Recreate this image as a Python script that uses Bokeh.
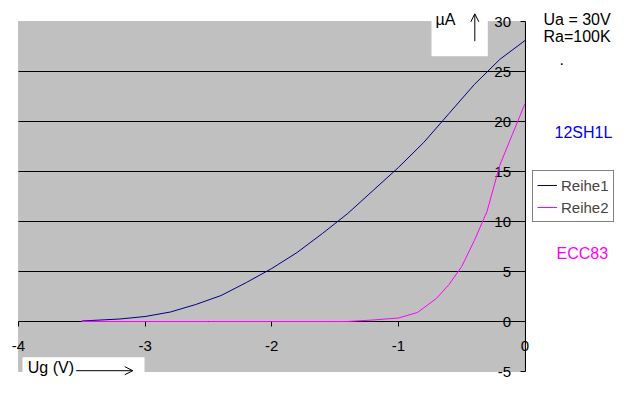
from bokeh.plotting import figure
from bokeh.models import (Range1d, LinearAxis, FixedTicker, Label, BoxAnnotation,
                          Arrow, OpenHead, Legend, LegendItem)
from bokeh.embed import file_html
from bokeh.resources import INLINE

# ---- data ----
ug_12sh1l = [-3.5, -3.2, -3.0, -2.8, -2.6, -2.4, -2.2, -2.0, -1.8, -1.6, -1.4, -1.2, -1.0, -0.8, -0.6, -0.4, -0.2, 0.0]
ia_12sh1l = [0.05, 0.25, 0.5, 0.95, 1.7, 2.6, 3.9, 5.3, 6.9, 8.8, 10.8, 13.1, 15.4, 17.9, 20.8, 23.7, 26.2, 28.1]

ug_ecc83 = [-3.5, -3.0, -2.5, -2.0, -1.5, -1.4, -1.2, -1.0, -0.85, -0.7, -0.6, -0.5, -0.4, -0.3, -0.2, -0.1, 0.0]
ia_ecc83 = [0.0, 0.0, 0.0, 0.0, 0.0, 0.0, 0.15, 0.35, 0.9, 2.3, 3.7, 5.5, 8.1, 11.0, 15.6, 18.7, 21.8]

series_names = ["Reihe1", "Reihe2"]
tube_names = ["12SH1L", "ECC83"]

x_ticks = [-4, -3, -2, -1, 0]
x_tick_labels = ["-4", "-3", "-2", "-1", "0"]
y_ticks = [-5, 0, 5, 10, 15, 20, 25, 30]
y_tick_labels = ["-5", "0", "5", "10", "15", "20", "25", "30"]
grid_levels = [5, 10, 15, 20, 25]

FONT = "Liberation Sans"

# plot area: x -4..0 at px 18..524.5, y 30..-5 at px 21..371 (frame = whole canvas)
W, H = 622, 380
PL, PR, PT, PB = 18, 524.5, 21, 371
kx = (PR - PL) / (x_ticks[-1] - x_ticks[0])
ky = (PB - PT) / (y_ticks[-1] - y_ticks[0])
x0 = x_ticks[0] - PL / kx
x1 = x_ticks[-1] + (W - PR) / kx
y1 = y_ticks[-1] + PT / ky
y0 = y_ticks[0] - (H - PB) / ky

def dx(px):
    return x_ticks[0] + (px - PL) / kx

def dy(py):
    return y_ticks[-1] - (py - PT) / ky

p = figure(width=W, height=H, x_range=Range1d(x0, x1), y_range=Range1d(y0, y1),
           x_axis_location=None, y_axis_location=None, title=None,
           output_backend="svg", toolbar_location=None,
           min_border_left=0, min_border_right=0, min_border_top=0, min_border_bottom=0,
           background_fill_color="white", border_fill_color="white",
           outline_line_color=None)
p.grid.visible = False

# grey plot area with grey border
area = BoxAnnotation(left=x_ticks[0], right=x_ticks[-1], bottom=y_ticks[0], top=y_ticks[-1],
                     fill_color="#C0C0C0", fill_alpha=1.0,
                     line_color="#808080", line_width=1, level="underlay")
p.add_layout(area)

# horizontal grid lines
p.segment(x0=[x_ticks[0]] * len(grid_levels), y0=grid_levels,
          x1=[x_ticks[-1]] * len(grid_levels), y1=grid_levels,
          line_color="black", line_width=1)

def style_axis(ax):
    ax.axis_line_color = "black"
    ax.axis_line_width = 1
    ax.major_tick_line_color = "black"
    ax.major_tick_in = 0
    ax.major_tick_out = 5
    ax.minor_tick_line_color = None
    ax.major_label_text_font = FONT
    ax.major_label_text_font_size = "15px"
    ax.major_label_text_color = "black"

xaxis = LinearAxis(fixed_location=0, bounds=(x_ticks[0], x_ticks[-1]),
                   ticker=FixedTicker(ticks=x_ticks),
                   major_label_overrides={t: l for t, l in zip(x_ticks, x_tick_labels)})
style_axis(xaxis)
xaxis.major_label_standoff = 14
p.add_layout(xaxis, "below")

yaxis = LinearAxis(fixed_location=0, bounds=(y_ticks[0], y_ticks[-1]),
                   ticker=FixedTicker(ticks=y_ticks),
                   major_label_overrides={t: l for t, l in zip(y_ticks, y_tick_labels)})
style_axis(yaxis)
yaxis.major_label_standoff = 9
p.add_layout(yaxis, "left")

r1 = p.line(ug_12sh1l, ia_12sh1l, line_color="#000080", line_width=1)
r2 = p.line(ug_ecc83, ia_ecc83, line_color="#FF00FF", line_width=1)
r2.level = "overlay"

# white boxes behind the axis captions
p.add_layout(BoxAnnotation(left=dx(431), right=dx(487.3), bottom=dy(55.7), top=y1 + 1,
                           fill_color="white", fill_alpha=1.0, line_color=None))
p.add_layout(BoxAnnotation(left=dx(22), right=dx(144), bottom=y0 - 1, top=dy(356.8),
                           fill_color="white", fill_alpha=1.0, line_color=None))

def lab(px, py, text, color="black", baseline="middle"):
    p.add_layout(Label(x=dx(px), y=dy(py), text=text, text_font=FONT, text_font_size="16px",
                       text_color=color, text_baseline=baseline, text_align="left"))

lab(435, 19, "µA")
lab(27.3, 367.2, "Ug (V)")
lab(543, 19, "Ua = 30V")
lab(543, 36, "Ra=100K")
lab(559, 58, ".", baseline="alphabetic")
lab(554, 132, tube_names[0], color="#0000FF")
lab(556, 252.5, tube_names[1], color="#FF00FF")

p.add_layout(Arrow(x_start=dx(474.3), y_start=dy(40.7), x_end=dx(474.3), y_end=dy(13.3),
                   line_color="black", line_width=1,
                   end=OpenHead(size=8, line_color="black", line_width=1)))
p.add_layout(Arrow(x_start=dx(75.7), y_start=dy(370.2), x_end=dx(132.3), y_end=dy(370.2),
                   line_color="black", line_width=1,
                   end=OpenHead(size=8, line_color="black", line_width=1)))

legend = Legend(items=[LegendItem(label=series_names[0], renderers=[r1]),
                       LegendItem(label=series_names[1], renderers=[r2])],
                location=(532, H - 222), orientation="vertical",
                border_line_color="black", border_line_width=1,
                background_fill_color="white", background_fill_alpha=1.0,
                label_text_font=FONT, label_text_font_size="15px",
                glyph_width=20, glyph_height=20, label_height=20,
                label_standoff=4, padding=4, spacing=2, margin=0)
p.add_layout(legend, "center")

open("out.html", "w").write(file_html(p, INLINE))
